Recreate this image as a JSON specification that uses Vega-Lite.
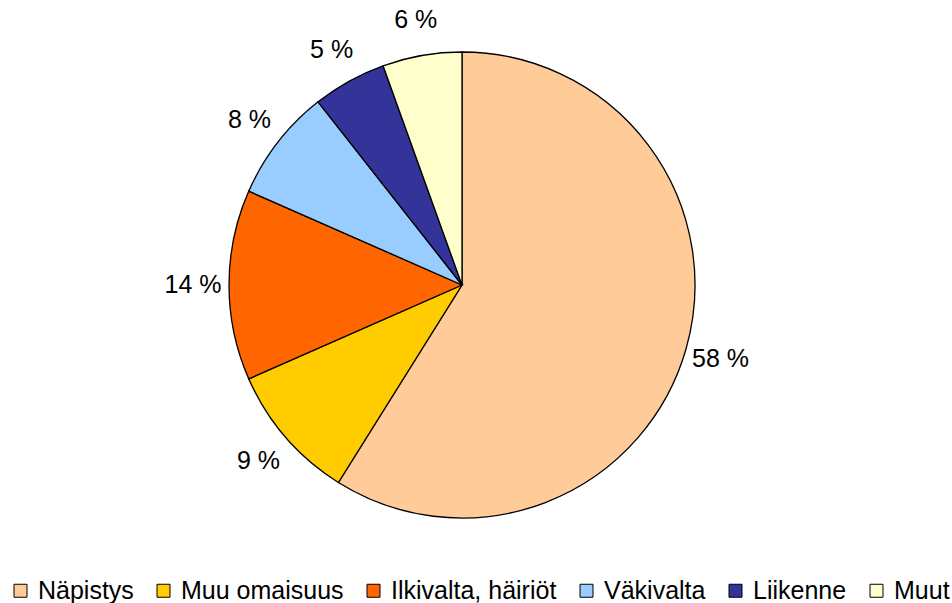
{
  "$schema": "https://vega.github.io/schema/vega-lite/v6.json",
  "width": 924,
  "height": 570,
  "autosize": "none",
  "padding": {"left": 0, "top": 0, "right": 28, "bottom": 33},
  "background": "white",
  "config": {"view": {"stroke": null}},
  "data": {
    "values": [
      {"category": "Näpistys", "value": 58.9, "label": "58 %", "order": 1},
      {"category": "Muu omaisuus", "value": 9.5, "label": "9 %", "order": 2},
      {"category": "Ilkivalta, häiriöt", "value": 13.2, "label": "14 %", "order": 3},
      {"category": "Väkivalta", "value": 7.8, "label": "8 %", "order": 4},
      {"category": "Liikenne", "value": 5.1, "label": "5 %", "order": 5},
      {"category": "Muut", "value": 5.5, "label": "6 %", "order": 6}
    ]
  },
  "encoding": {
    "theta": {"field": "value", "type": "quantitative", "stack": true},
    "order": {"field": "order", "type": "quantitative"}
  },
  "layer": [
    {
      "mark": {"type": "arc", "outerRadius": 233, "stroke": "black", "strokeWidth": 1.3},
      "encoding": {
        "color": {
          "field": "category",
          "type": "nominal",
          "scale": {
            "domain": ["Näpistys", "Muu omaisuus", "Ilkivalta, häiriöt", "Väkivalta", "Liikenne", "Muut"],
            "range": ["#FFCC99", "#FFCC00", "#FF6600", "#99CCFF", "#333399", "#FFFFCC"]
          },
          "legend": {
            "title": null,
            "orient": "none",
            "direction": "horizontal",
            "legendX": 8,
            "legendY": 578,
            "symbolType": "square",
            "symbolSize": 169,
            "symbolStrokeColor": "black",
            "symbolStrokeWidth": 1,
            "labelFont": "Liberation Sans",
            "labelFontSize": 25,
            "labelColor": "black",
            "labelOffset": 5,
            "columnPadding": 17,
            "labelLimit": 400
          }
        }
      }
    },
    {
      "mark": {"type": "text", "radius": 269, "fontSize": 25, "font": "Liberation Sans", "color": "black"},
      "encoding": {"text": {"field": "label", "type": "nominal"}}
    }
  ]
}
